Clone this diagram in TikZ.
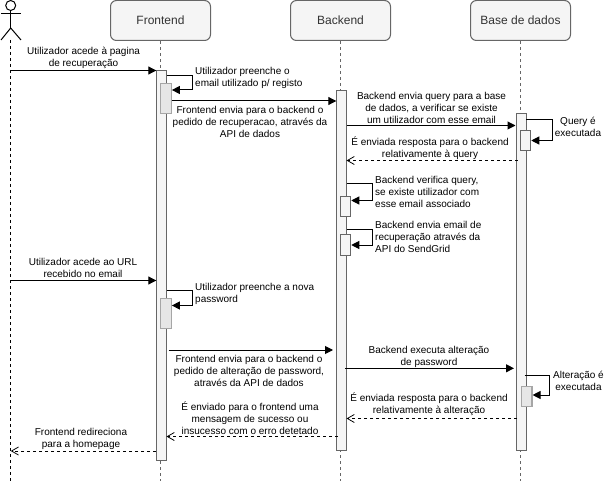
\documentclass[tikz,border=0pt]{standalone}
\usepackage{fontspec}
\setmainfont{Liberation Sans}
\usetikzlibrary{arrows.meta}
\definecolor{boxline}{HTML}{666666}
\definecolor{boxfill}{HTML}{F5F5F5}
\definecolor{boxtext}{HTML}{333333}
\definecolor{paleline}{HTML}{A6A6A6}
\definecolor{palefill}{HTML}{E6E6E6}
\tikzset{
    party/.style={rectangle, rounded corners=6pt, draw=boxline, fill=boxfill, text=boxtext, minimum width=100pt, minimum height=40pt, inner sep=0pt, line width=1pt, font=\fontsize{12}{14}\selectfont},
    bar/.style={rectangle, draw=boxline, fill=boxfill, inner sep=0pt, minimum width=10pt, line width=1pt},
    subbar/.style={bar, minimum width=10.5pt, minimum height=20pt},
    palesub/.style={subbar, draw=paleline, fill=palefill, line width=1.2pt, minimum height=30pt},
    label/.style={inner sep=0pt, align=center, font=\fontsize{10}{12}\selectfont},
    leftlabel/.style={label, align=left, anchor=west},
    lifeline/.style={draw=boxline, dash pattern=on 3pt off 3pt, line width=0.8pt},
    msg/.style={draw=black, line width=1pt, -{Triangle[length=8pt,width=8pt]}},
    reply/.style={draw=black, line width=0.8pt, dash pattern=on 3pt off 3pt, -{Straight Barb[length=7pt,width=8pt]}}
}
\begin{document}
\begin{tikzpicture}[x=1pt, y=-1pt]
    \useasboundingbox (0,0) rectangle (605,481);

    % actor
    \node[circle, draw=black, fill=white, inner sep=0pt, minimum size=10pt, line width=1pt] (head) at (10.7,5.5) {};
    \coordinate (neck) at (10.7,28);
    \coordinate (armL) at (1,14);
    \coordinate (armR) at (21,14);
    \coordinate (legL) at (1,40);
    \coordinate (legR) at (21,40);
    \coordinate (actorEnd) at (10.7,481);
    \draw[line width=1pt] (head) -- (neck);
    \draw[line width=1pt] (armL) -- (armR);
    \draw[line width=1pt] (legL) -- (neck) -- (legR);
    \draw[line width=0.8pt, dash pattern=on 3pt off 3pt] (neck |- legL) -- (actorEnd);

    % parties and lifelines
    \node[party] (frontend) at (160.5,20.5) {Frontend};
    \node[party] (backend) at (340.5,20.5) {Backend};
    \node[party] (database) at (520.5,20.5) {Base de dados};
    \coordinate (frontendEnd) at (160.5,481);
    \coordinate (backendEnd) at (340.5,481);
    \coordinate (databaseEnd) at (520.5,481);
    \draw[lifeline] (frontend) -- (frontendEnd);
    \draw[lifeline] (backend) -- (backendEnd);
    \draw[lifeline] (database) -- (databaseEnd);

    % activation bars
    \node[bar, minimum height=390pt] (frontendBar) at (161.5,265.5) {};
    \node[bar, minimum height=360pt] (backendBar) at (341.5,270.5) {};
    \node[bar, minimum height=337pt] (databaseBar) at (521,282) {};
    \node[palesub] (emailBar) at (166,98.2) {};
    \node[palesub] (passBar) at (166,313.3) {};
    \node[subbar] (verifyBar) at (345.5,206.5) {};
    \node[subbar] (sendBar) at (345.5,245) {};
    \node[subbar] (queryBar) at (525.5,140.3) {};
    \node[subbar, draw=paleline, fill=palefill, line width=1.2pt] (changeBar) at (526.7,396.7) {};

    % messages
    \coordinate (m1a) at (10.7,70.5);
    \coordinate (m1b) at (156.3,70.5);
    \draw[msg] (m1a) -- (m1b);
    \node[label] (m1text) at (83.5,58) {Utilizador acede à pagina\\de recuperação};

    \coordinate (m2a) at (171.5,101);
    \coordinate (m2b) at (336.3,101);
    \draw[msg] (m2a) -- (m2b);
    \node[label] (m2text) at (250,122) {Frontend envia para o backend o\\pedido de recuperacao, através da\\API de dados};

    \coordinate (m3a) at (346.5,125.5);
    \coordinate (m3b) at (515.5,125.5);
    \draw[msg] (m3a) -- (m3b);
    \node[label] (m3text) at (431.5,107.5) {Backend envia query para a base\\de dados, a verificar se existe\\um utilizador com esse email};

    \coordinate (m4a) at (517.5,160.5);
    \coordinate (m4b) at (346.5,160.5);
    \draw[reply] (m4a) -- (m4b);
    \node[label] (m4text) at (430,148) {É enviada resposta para o backend\\relativamente à query};

    \coordinate (m5a) at (10.7,280.5);
    \coordinate (m5b) at (156.3,280.5);
    \draw[msg] (m5a) -- (m5b);
    \node[label] (m5text) at (83,268) {Utilizador acede ao URL\\recebido no email};

    \coordinate (m6a) at (168.5,350);
    \coordinate (m6b) at (333,350);
    \draw[msg] (m6a) -- (m6b);
    \node[label] (m6text) at (249,371) {Frontend envia para o backend o\\pedido de alteração de password,\\através da API de dados};

    \coordinate (m7a) at (345,368.3);
    \coordinate (m7b) at (514,368.3);
    \draw[msg] (m7a) -- (m7b);
    \node[label] (m7text) at (429,356.5) {Backend executa alteração\\de password};

    \coordinate (m8a) at (517,418.5);
    \coordinate (m8b) at (346.5,418.5);
    \draw[reply] (m8a) -- (m8b);
    \node[label] (m8text) at (429,404) {É enviada resposta para o backend\\relativamente à alteração};

    \coordinate (m9a) at (338,436.5);
    \coordinate (m9b) at (166.5,436.5);
    \draw[reply] (m9a) -- (m9b);
    \node[label] (m9text) at (250,418.5) {É enviado para o frontend uma\\mensagem de sucesso ou\\insucesso com o erro detetado};

    \coordinate (m10a) at (156,451);
    \coordinate (m10b) at (10.7,451);
    \draw[reply] (m10a) -- (m10b);
    \node[label] (m10text) at (81,439) {Frontend redireciona\\para a homepage};

    % self calls
    \coordinate (s1a) at (166.5,75.5);
    \coordinate (s1b) at (192,90);
    \draw[msg] (s1a) -| (s1b) -- (emailBar.east |- s1b);
    \node[leftlabel] (s1text) at (195,78) {Utilizador preenche o\\email utilizado p/ registo};

    \coordinate (s2a) at (166.5,290.5);
    \coordinate (s2b) at (192,305.5);
    \draw[msg] (s2a) -| (s2b) -- (passBar.east |- s2b);
    \node[leftlabel] (s2text) at (195,294) {Utilizador preenche a nova\\password};

    \coordinate (s3a) at (346.5,184);
    \coordinate (s3b) at (372,200.5);
    \draw[msg] (s3a) -| (s3b) -- (verifyBar.east |- s3b);
    \node[leftlabel] (s3text) at (375,191.5) {Backend verifica query,\\se existe utilizador com\\esse email associado};

    \coordinate (s4a) at (346.5,229.5);
    \coordinate (s4b) at (372,245);
    \draw[msg] (s4a) -| (s4b) -- (sendBar.east |- s4b);
    \node[leftlabel] (s4text) at (375,237) {Backend envia email de\\recuperação através da\\API do SendGrid};

    \coordinate (s5a) at (526,120);
    \coordinate (s5b) at (552,140.5);
    \draw[msg] (s5a) -| (s5b) -- (queryBar.east |- s5b);
    \node[label] (s5text) at (578,126.5) {Query é\\executada};

    \coordinate (s6a) at (524.5,375);
    \coordinate (s6b) at (549.5,395);
    \draw[msg] (s6a) -| (s6b) -- (changeBar.east |- s6b);
    \node[label] (s6text) at (578.5,381) {Alteração é\\executada};
\end{tikzpicture}
\end{document}
